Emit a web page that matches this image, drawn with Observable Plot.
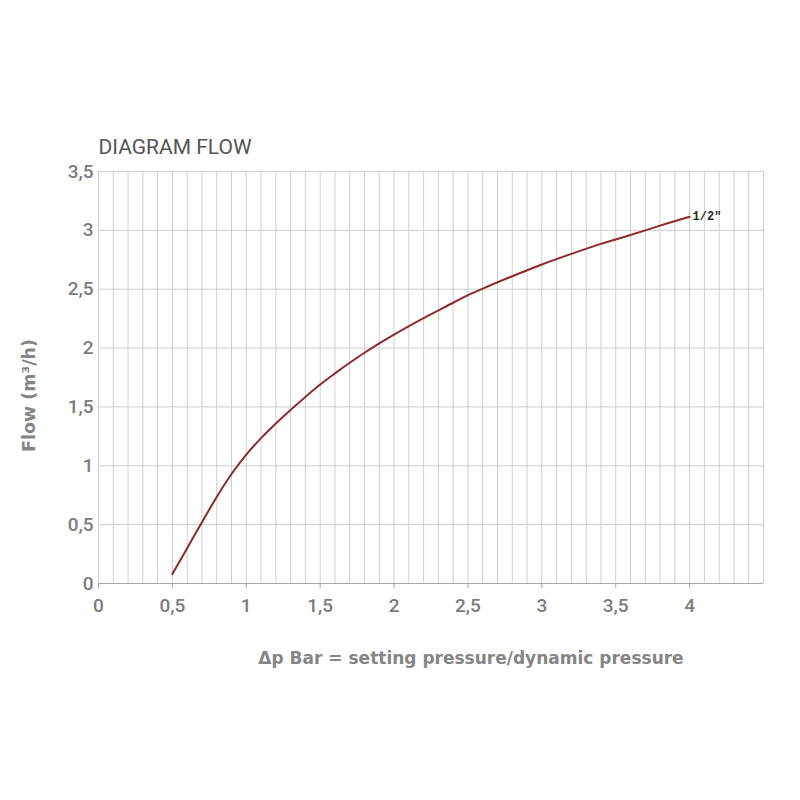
<!DOCTYPE html>
<html>
<head>
<meta charset="utf-8">
<script src="https://cdn.jsdelivr.net/npm/d3@7"></script>
<script src="https://cdn.jsdelivr.net/npm/@observablehq/plot@0.6"></script>
<style>
  html, body { margin: 0; padding: 0; background: #ffffff; }
</style>
</head>
<body>
<div id="chart"></div>
<script>
// Pressure difference (bar)
const dp = [0.5, 0.6, 0.7, 0.8, 0.9, 1.0, 1.1, 1.2, 1.3, 1.4, 1.5, 1.6, 1.7, 1.8, 1.9, 2.0,
            2.2, 2.4, 2.5, 2.6, 2.8, 3.0, 3.2, 3.4, 3.6, 3.8, 4.0];
// Flow (m3/h) for 1/2"
const flow = [0.08, 0.30, 0.52, 0.735, 0.93, 1.095, 1.235, 1.36, 1.475, 1.585, 1.69, 1.785, 1.875, 1.96, 2.04, 2.115,
              2.255, 2.385, 2.45, 2.505, 2.61, 2.71, 2.80, 2.885, 2.96, 3.04, 3.115];
const seriesName = '1/2"';
const xTicks = [0, 0.5, 1, 1.5, 2, 2.5, 3, 3.5, 4];
const yTicks = [0, 0.5, 1, 1.5, 2, 2.5, 3, 3.5];
const xGrid = d3.range(0, 46).map(i => i / 10);
const title = "DIAGRAM FLOW";
const xLabel = "Δp Bar = setting pressure/dynamic pressure";
const yLabel = "Flow (m³/h)";

const data = dp.map((x, i) => ({x, y: flow[i]}));
const last = data[data.length - 1];
const comma = d => String(d).replace(".", ",");

const chart = Plot.plot({
  width: 800,
  height: 800,
  marginLeft: 98,
  marginRight: 37,
  marginTop: 171,
  marginBottom: 217,
  style: {fontFamily: "Roboto, 'Noto Sans', sans-serif", background: "#ffffff"},
  x: {domain: [0, 4.5]},
  y: {domain: [0, 3.5]},
  marks: [
    Plot.ruleX(xGrid, {stroke: "#cfcfcf", strokeWidth: 1}),
    Plot.ruleY(yTicks.filter(d => d > 0), {stroke: "#cfcfcf", strokeWidth: 1}),
    Plot.ruleY([0], {stroke: "#a8a8a8", strokeWidth: 1.2}),
    Plot.axisX({ticks: xTicks, tickFormat: comma, tickSize: 5, tickPadding: 10, stroke: "#a8a8a8",
                fontSize: 19, fontWeight: 500, color: "#7c7c7c", label: null}),
    Plot.axisY({ticks: yTicks, tickFormat: comma, tickSize: 0, tickPadding: 5,
                fontSize: 19, fontWeight: 500, color: "#7c7c7c", label: null}),
    Plot.line(data, {x: "x", y: "y", curve: "monotone-x", stroke: "#8e2a2a", strokeWidth: 2}),
    Plot.text([last], {x: "x", y: "y", text: () => seriesName, dx: 3, dy: -1, textAnchor: "start",
                       fontFamily: "'Liberation Mono', 'DejaVu Sans Mono', monospace", fontWeight: "bold", fontSize: 12, fill: "#2a2a2a"}),
    Plot.text([title], {frameAnchor: "top-left", dy: -18, dx: 0, textAnchor: "start",
                        fontSize: 21, fontWeight: 400, fill: "#555", lineAnchor: "bottom"}),
    Plot.text([xLabel], {frameAnchor: "bottom", dx: 40, dy: 80, textAnchor: "middle",
                         fontFamily: "'DejaVu Sans', sans-serif",
                         fontSize: 17, fontWeight: "bold", fill: "#858585", lineAnchor: "bottom"}),
    Plot.text([yLabel], {frameAnchor: "left", dx: -69, dy: 18, rotate: -90, textAnchor: "middle",
                         fontFamily: "'DejaVu Sans', sans-serif",
                         fontSize: 17.5, fontWeight: "bold", fill: "#858585"})
  ]
});
document.getElementById("chart").appendChild(chart);
</script>
</body>
</html>
